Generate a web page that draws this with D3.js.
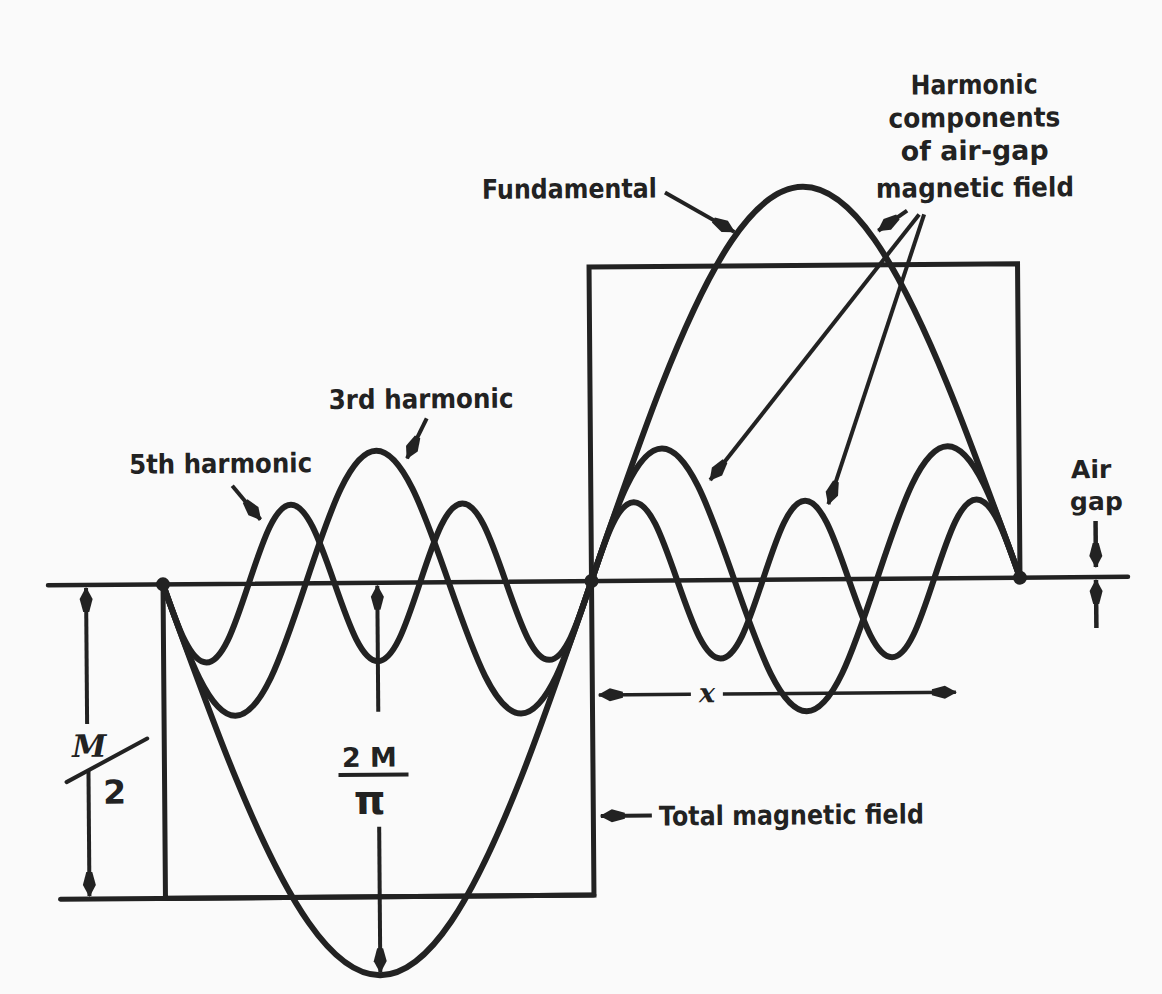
<!DOCTYPE html>
<meta charset="utf-8">
<script src="https://d3js.org/d3.v7.min.js"></script>
<style>
  body { margin: 0; background: #fafafa; }
  text { font-family: "DejaVu Sans", sans-serif; font-weight: bold; fill: #222; }
</style>
<div id="chart"></div>
<script>
  // values, angle in electrical degrees, height in units of M/2
  var fundAngle   = [-180, -150, -120, -90, -60, -30, 0, 30, 60, 90, 120, 150, 180]
  var fundValue   = [0, -0.62, -1.08, -1.25, -1.08, -0.62, 0, 0.62, 1.08, 1.25, 1.08, 0.62, 0]

  var thirdAngle  = [-180, -165, -150, -135, -120, -105, -90, -75, -60, -45, -30, -15, 0,
                     15, 30, 45, 60, 75, 90, 105, 120, 135, 150, 165, 180]
  var thirdValue  = [0, -0.3, -0.42, -0.3, 0, 0.3, 0.42, 0.3, 0, -0.3, -0.42, -0.3, 0,
                     0.3, 0.42, 0.3, 0, -0.3, -0.42, -0.3, 0, 0.3, 0.42, 0.3, 0]

  var fifthAngle  = [-180, -171, -162, -153, -144, -135, -126, -117, -108, -99, -90, -81, -72, -63, -54, -45, -36, -27, -18, -9, 0,
                     9, 18, 27, 36, 45, 54, 63, 72, 81, 90, 99, 108, 117, 126, 135, 144, 153, 162, 171, 180]
  var fifthValue  = [0, -0.18, -0.25, -0.18, 0, 0.18, 0.25, 0.18, 0, -0.18, -0.25, -0.18, 0, 0.18, 0.25, 0.18, 0, -0.18, -0.25, -0.18, 0,
                     0.18, 0.25, 0.18, 0, -0.18, -0.25, -0.18, 0, 0.18, 0.25, 0.18, 0, -0.18, -0.25, -0.18, 0, 0.18, 0.25, 0.18, 0]

  var squareAngle = [-180, -180, 0, 0, 180, 180]
  var squareValue = [0, -1, -1, 1, 1, 0]

  var dotAngles   = [-180, 0, 180]
  var halfM       = 1      // M/2
  var peakFund    = 1.25   // 2M/pi

  var harmonicLines = ["Harmonic", "components", "of air-gap", "magnetic field"]

  var width = 1162
      height = 994
      ink = "#222"

  var svg = d3.select("#chart")
    .append("svg")
      .attr("width", width)
      .attr("height", height)

  svg.append("rect").attr("width", width).attr("height", height).attr("fill", "#fafafa")

  // arrow head like the drawn ones: long, narrow, filled
  svg.append("defs").append("marker")
      .attr("id", "head")
      .attr("markerUnits", "userSpaceOnUse")
      .attr("viewBox", "-26 -8 28 16")
      .attr("refX", 0).attr("refY", 0)
      .attr("markerWidth", 28).attr("markerHeight", 16)
      .attr("orient", "auto")
    .append("path")
      .attr("d", "M1,0 L-11,-6.5 L-24,-3 L-24,3 L-11,6.5 Z")
      .attr("fill", ink)

  // the scan is turned a little
  var g = svg.append("g").attr("transform", "rotate(-0.45,592,581)")

  var x = d3.scaleLinear().domain([-180, 180]).range([163, 1020])
  var y = d3.scaleLinear().domain([-1, 1]).range([895, 267])

  var zip = function (a, b) { return a.map(function (v, i) { return [v, b[i]] }) }

  var smooth = d3.line()
    .x(function (d) { return x(d[0]) })
    .y(function (d) { return y(d[1]) })
    .curve(d3.curveNatural)

  var straight = d3.line()
    .x(function (d) { return x(d[0]) })
    .y(function (d) { return y(d[1]) })

  // air gap line
  g.append("line")
    .attr("x1", 48).attr("x2", 1128)
    .attr("y1", y(0)).attr("y2", y(0))
    .attr("stroke", ink).attr("stroke-width", 4.5).attr("stroke-linecap", "round")

  // extension line for M/2 at the bottom
  g.append("line")
    .attr("x1", 58).attr("x2", x(0))
    .attr("y1", y(-halfM)).attr("y2", y(-halfM))
    .attr("stroke", ink).attr("stroke-width", 5).attr("stroke-linecap", "round")

  // total magnetic field (square wave)
  g.append("path")
    .attr("d", straight(zip(squareAngle, squareValue)))
    .attr("fill", "none").attr("stroke", ink).attr("stroke-width", 5)

  // fundamental and harmonics
  var curves = [zip(fundAngle, fundValue), zip(thirdAngle, thirdValue), zip(fifthAngle, fifthValue)]
  g.selectAll("path.wave")
    .data(curves)
    .enter()
    .append("path")
      .attr("class", "wave")
      .attr("d", smooth)
      .attr("fill", "none")
      .attr("stroke", ink)
      .attr("stroke-width", 6)
      .attr("stroke-linecap", "round")

  g.selectAll("circle.dot")
    .data(dotAngles)
    .enter()
    .append("circle")
      .attr("cx", function (d) { return x(d) })
      .attr("cy", y(0))
      .attr("r", 7)
      .attr("fill", ink)

  // helper: line from tail to tip with a head at the tip
  var arrow = function (x1, y1, x2, y2, w) {
    g.append("line")
      .attr("x1", x1).attr("y1", y1).attr("x2", x2).attr("y2", y2)
      .attr("stroke", ink).attr("stroke-width", w || 4)
      .attr("marker-end", "url(#head)")
  }

  // M/2 dimension
  arrow(86, 720, 86, y(0) + 3)
  arrow(87, 767, 87, y(-halfM) - 3)
  g.append("line")
    .attr("x1", 65).attr("y1", 778).attr("x2", 146).attr("y2", 735)
    .attr("stroke", ink).attr("stroke-width", 4).attr("stroke-linecap", "round")
  g.append("text").text("M")
    .attr("x", 88).attr("y", 753).attr("text-anchor", "middle")
    .style("font-family", "'DejaVu Serif', serif").style("font-style", "italic")
    .style("font-size", "31px")
  g.append("text").text("2")
    .attr("x", 113).attr("y", 800).attr("text-anchor", "middle")
    .style("font-size", "33px")

  // 2M/pi dimension
  arrow(x(-90), 710, x(-90), y(0) + 3)
  arrow(x(-90), 825, x(-90), y(-peakFund) - 3)
  g.append("text").text("2 M")
    .attr("x", 368).attr("y", 765).attr("text-anchor", "middle")
    .style("font-size", "27px")
  g.append("line")
    .attr("x1", 337).attr("x2", 407).attr("y1", 773).attr("y2", 773)
    .attr("stroke", ink).attr("stroke-width", 4)
  g.append("text").text("π")
    .attr("x", 368).attr("y", 812).attr("text-anchor", "middle")
    .style("font-size", "40px")

  // x distance
  arrow(690, 695, 598, 695, 3.5)
  arrow(722, 695, 955, 695, 3.5)
  g.append("text").text("x")
    .attr("x", 706).attr("y", 703).attr("text-anchor", "middle")
    .style("font-family", "'DejaVu Serif', serif").style("font-style", "italic")
    .style("font-size", "27px")

  // labels with their pointers
  var label = function (s, x0, y0, len) {
    g.append("text").text(s)
      .attr("x", x0).attr("y", y0)
      .attr("textLength", len).attr("lengthAdjust", "spacingAndGlyphs")
      .style("font-size", "27px")
  }

  label("Total magnetic field", 657, 826, 265)
  arrow(650, 816, 599, 816)

  label("Fundamental", 485, 198, 175)
  arrow(668, 193, 737, 233)

  label("3rd harmonic", 330, 407, 185)
  arrow(428, 417, 408, 457)

  label("5th harmonic", 130, 470, 183)
  arrow(233, 483, 261, 517)

  var hLen = [127, 172, 148, 198]
  var hBase = [97, 130, 163, 200]
  harmonicLines.forEach(function (s, i) {
    label(s, 978 - hLen[i] / 2, hBase[i], hLen[i])
  })
  arrow(910, 213, 881, 233)
  arrow(922, 217, 711, 481)
  arrow(927, 217, 829, 506)

  // air gap
  g.append("text").text("Air")
    .attr("x", 1092).attr("y", 482).attr("text-anchor", "middle")
    .style("font-size", "25px")
  g.append("text").text("gap")
    .attr("x", 1097).attr("y", 514).attr("text-anchor", "middle")
    .style("font-size", "25px")
  arrow(1096, 525, 1096, 571, 4.5)
  arrow(1096, 632, 1096, 584, 4.5)
</script>
